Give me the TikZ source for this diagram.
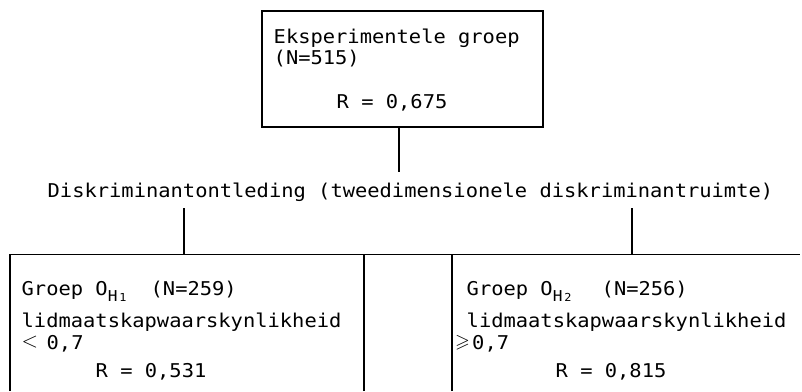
\documentclass[tikz,border=0pt]{standalone}
\usepackage{amssymb}
\usepackage{fontspec}
\setmainfont[FakeStretch=1.075]{DejaVu Sans Mono}
\begin{document}
\begin{tikzpicture}[x=1pt,y=-1pt,
  txt/.style={anchor=base west,inner sep=0pt,font=\fontsize{19}{19}\selectfont},
  frame/.style={draw,line width=1.2pt,inner sep=0pt},
  link/.style={line width=1.3pt},
  rail/.style={line width=1pt},
  edge/.style={line width=1.4pt}]
\useasboundingbox (0,0) rectangle (802,391);

% top box: the whole experimental group
\node[frame,minimum width=281pt,minimum height=116pt] (top) at (402.5,69) {};
\node[txt] (t1) at (273.5,43) {Eksperimentele groep};
\node[txt] (t2) at (273.5,64) {(N=515)};
\node[txt] (t3) at (336.5,108) {R = 0,675};

% the split step
\coordinate (hub) at (399,172);
\draw[link] (top.south -| hub) -- (hub);
\node[txt] (split) at (47.5,197) {Diskriminantontleding (tweedimensionele diskriminantruimte)};

% rail joining the two groups
\coordinate (railL) at (10,254);
\coordinate (railR) at (800,254);
\coordinate (bl) at (184,208);
\coordinate (br) at (632,208);
\draw[link] (bl) -- (bl |- railL);
\draw[link] (br) -- (br |- railL);
\draw[rail] (railL) -- (railR);

% open-bottomed boxes of the two groups
\coordinate (lboxL) at (10,391);
\coordinate (lboxR) at (364,391);
\coordinate (rboxL) at (452,391);
\draw[edge] (lboxL) -- (lboxL |- railL);
\draw[edge] (lboxR) -- (lboxR |- railL);
\draw[edge] (rboxL) -- (rboxL |- railL);

% left group
\node[txt] (g1) at (21.5,295) {Groep O\raisebox{-6pt}{\fontsize{15}{15}\selectfont H\hspace{2pt}\fontsize{11}{11}\selectfont 1}};
\node[txt] (n1) at (150.5,295) {(N=259)};
\node[txt] (l1) at (21.5,327) {lidmaatskapwaarskynlikheid};
\node[txt] (c1s) at (21.5,348) {\raisebox{1pt}{\scalebox{1.25}{$<$}}};
\node[txt] (c1) at (46.5,349) {0,7};
\node[txt] (r1) at (95.5,377) {R = 0,531};

% right group
\node[txt] (g2) at (466.5,295) {Groep O\raisebox{-6pt}{\fontsize{15}{15}\selectfont H\hspace{2pt}\fontsize{11}{11}\selectfont 2}};
\node[txt] (n2) at (601.5,295) {(N=256)};
\node[txt] (l2) at (466.5,327) {lidmaatskapwaarskynlikheid};
\node[txt] (c2s) at (455,348) {\raisebox{1pt}{$\geqslant$}};
\node[txt] (c2) at (472,349) {0,7};
\node[txt] (r2) at (555.5,377) {R = 0,815};
\end{tikzpicture}
\end{document}
